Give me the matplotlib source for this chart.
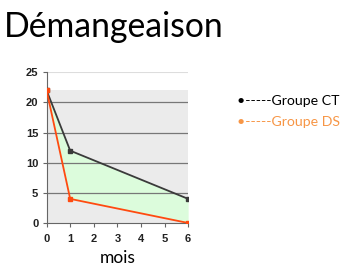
import matplotlib
matplotlib.use("Agg")
import matplotlib.pyplot as plt

months = [0, 1, 6]
groupe_ct = [22, 12, 4]
groupe_ds = [22, 4, 0]
band_top = 22
x_ticks = [0, 1, 2, 3, 4, 5, 6]
y_ticks = [0, 5, 10, 15, 20, 25]

fig = plt.figure(figsize=(3.53, 2.77), dpi=100)
ax = fig.add_axes([0.132, 0.195, 0.401, 0.544])

ax.fill_between([0, 6], 0, band_top, color="#ebebeb", zorder=0, linewidth=0)
ax.fill_between(months, groupe_ds, groupe_ct, color="#dcfcdc", zorder=1, linewidth=0)
for y in y_ticks[1:-1]:
    ax.axhline(y, color="#777777", linewidth=0.9, zorder=1.5)
ax.axhline(y_ticks[-1], color="#dddddd", linewidth=0.8, zorder=1.5)

ax.plot(months, groupe_ct, color="#3a3a3a", linewidth=1.3, marker="s", markersize=2.5, zorder=3)
ax.plot(months, groupe_ds, color="#ff4a10", linewidth=1.3, marker="s", markersize=2.5, zorder=3)

ax.set_xlim(0, 6)
ax.set_ylim(0, 25)
ax.set_xticks(x_ticks)
ax.set_yticks(y_ticks)
for lab in ax.get_xticklabels() + ax.get_yticklabels():
    lab.set_fontfamily("Liberation Sans")
    lab.set_fontweight("bold")
    lab.set_fontsize(8)
    lab.set_color("#222222")
ax.tick_params(length=3, width=0.8, color="#666666", pad=3)
ax.tick_params(axis="x", pad=5)
for s in ["top", "right"]:
    ax.spines[s].set_visible(False)
for s in ["left", "bottom"]:
    ax.spines[s].set_color("#666666")
    ax.spines[s].set_linewidth(0.8)

ax.set_xlabel("mois", fontfamily="Lato", fontsize=12.5, labelpad=4)

fig.text(0.012, 0.96, "Démangeaison", fontfamily="Lato", fontsize=24.3, va="top", ha="left")
fig.text(0.672, 0.635, "•-----Groupe CT", fontfamily="Lato", fontsize=10.2, color="black", va="center")
fig.text(0.672, 0.56, "•-----Groupe DS", fontfamily="Lato", fontsize=10.2, color="#f79646", va="center")

fig.savefig("out.png", dpi=100)
